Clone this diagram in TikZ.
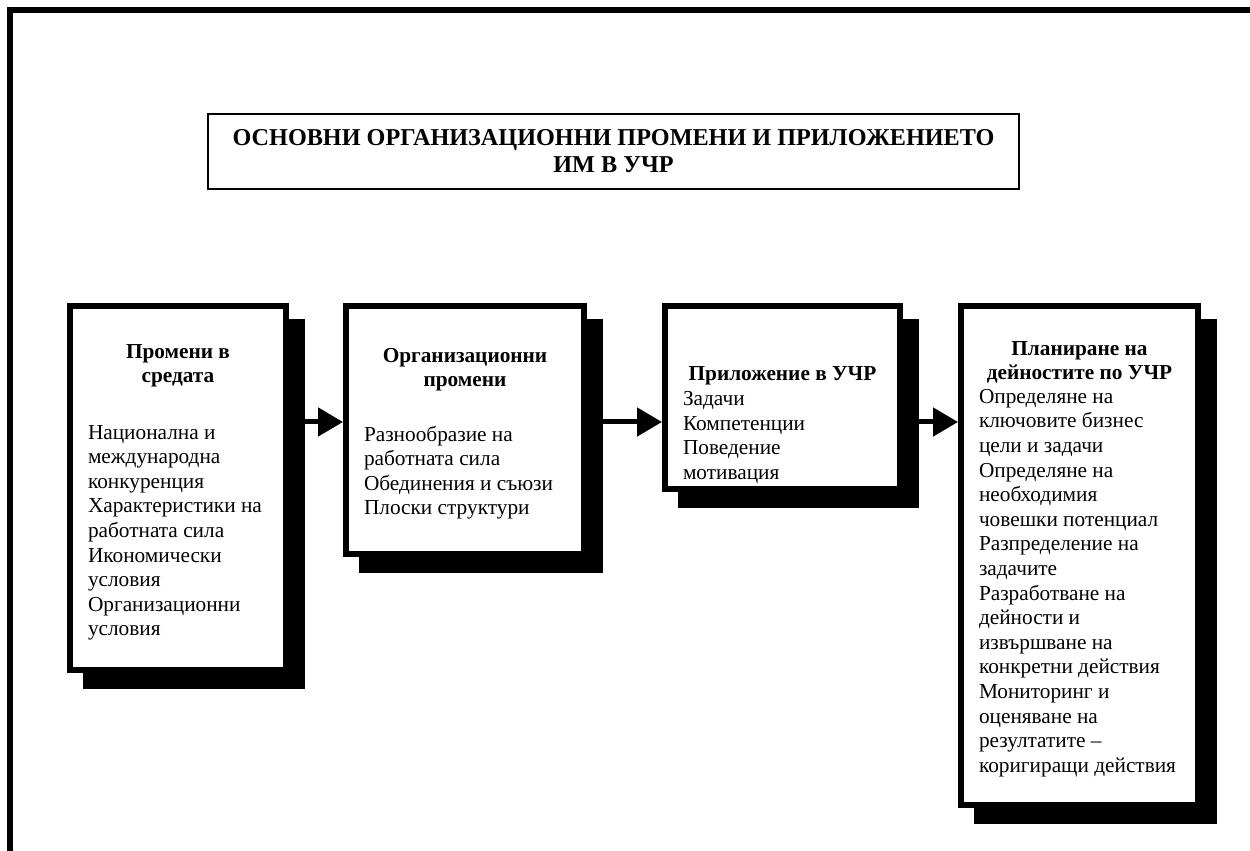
\documentclass[tikz,border=0pt]{standalone}
\usepackage{fontspec}
\setmainfont{Liberation Serif}
\usetikzlibrary{arrows.meta,positioning,backgrounds}

% text block of a stage box: height, width, top gap, heading, gap, lines
\newcommand{\stagetxt}[6]{\parbox[c][#1][t]{#2}{%
  \vspace*{#3}{\centering\bfseries\begin{tabular}{@{}c@{}}#4\end{tabular}\par}\vspace{#5}%
  \noindent\begin{tabular}{@{}l@{}}#6\end{tabular}}}

\begin{document}
\begin{tikzpicture}[
  x=1pt, y=1pt,
  titlebox/.style={draw,line width=2pt,minimum width=811pt,minimum height=75pt,align=center,font=\fontsize{24.2}{27}\selectfont\bfseries},
  stage/.style={draw,fill=white,line width=6pt,inner xsep=18pt,inner ysep=0pt,anchor=north west,font=\fontsize{21.3}{24.6}\selectfont},
  flow/.style={line width=5pt,-{Triangle[length=25pt,width=28pt]}},
  frame/.style={line width=6pt}
]
\useasboundingbox (0,0) rectangle (1250,851);
\draw[frame] (10,0) -- (10,841) -- (1250,841);

\node[titlebox] (title) at (613.5,699.5) {ОСНОВНИ ОРГАНИЗАЦИОННИ ПРОМЕНИ И ПРИЛОЖЕНИЕТО\\ИМ В УЧР};

\node[stage] (env) at (67,548) {\stagetxt{364pt}{180pt}{34.8pt}{Промени в\\средата}{30.8pt}{%
  Национална и\\международна\\конкуренция\\Характеристики на\\работната сила\\Икономически\\условия\\Организационни\\условия}};
\node[stage,right=54pt of env.north east,anchor=north west] (org) {\stagetxt{248pt}{202pt}{38.8pt}{Организационни\\промени}{28.8pt}{%
  Разнообразие на\\работната сила\\Обединения и съюзи\\Плоски структури}};
\node[stage,right=75pt of org.north east,anchor=north west] (app) {\stagetxt{183pt}{199pt}{56.8pt}{Приложение в УЧР}{0pt}{%
  Задачи\\Компетенции\\Поведение\\мотивация}};
\node[stage,right=55pt of app.north east,anchor=north west] (plan) {\stagetxt{499pt}{201pt}{31.8pt}{Планиране на\\дейностите по УЧР}{-2pt}{%
  Определяне на\\ключовите бизнес\\цели и задачи\\Определяне на\\необходимия\\човешки потенциал\\Разпределение на\\задачите\\Разработване на\\дейности и\\извършване на\\конкретни действия\\Мониторинг и\\оценяване на\\резултатите --\\коригиращи действия}};

\begin{scope}[on background layer]
\foreach \n in {env,org,app,plan}
  \fill ([shift={(16,-16)}]\n.south west) rectangle ([shift={(16,-16)}]\n.north east);
\end{scope}

\coordinate (lvl) at (0,429);
\draw[flow] (env.east |- lvl) -- (org.west |- lvl);
\draw[flow] (org.east |- lvl) -- (app.west |- lvl);
\draw[flow] (app.east |- lvl) -- (plan.west |- lvl);
\end{tikzpicture}
\end{document}
